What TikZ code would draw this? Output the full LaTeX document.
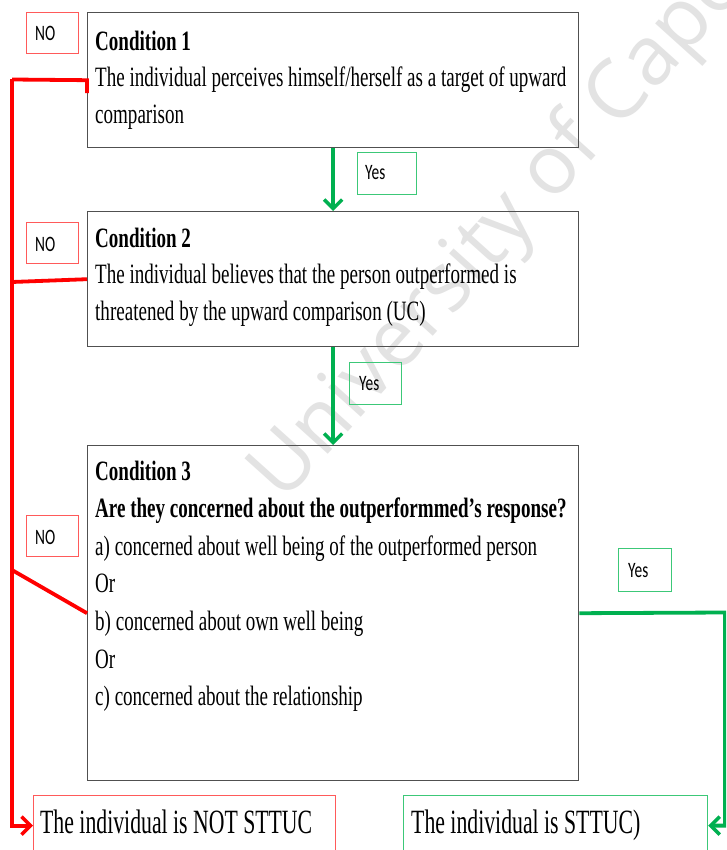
\documentclass[tikz,border=0pt]{standalone}
\usepackage{fontspec}
\usetikzlibrary{arrows.meta}
\newfontfamily\tnr[FakeStretch=0.68]{Liberation Serif}
\newfontfamily\tnrend[FakeStretch=0.64]{Liberation Serif}
\newfontfamily\lbl[FakeStretch=0.7]{Carlito}
\newfontfamily\wmfont{Open Sans}
\definecolor{boxgray}{HTML}{505050}
\definecolor{nored}{HTML}{FF0000}
\definecolor{lightred}{HTML}{FF5A5A}
\definecolor{yesgreen}{HTML}{00B050}
\definecolor{lightgreen}{HTML}{3CC878}
\tikzset{
  cbox/.style={draw=boxgray, line width=1.4pt, anchor=north west, inner sep=0pt},
  nobox/.style={draw=lightred, line width=1.2pt, anchor=north west, inner sep=0pt, minimum width=52pt, minimum height=41pt},
  yesbox/.style={draw=lightgreen, line width=1.2pt, anchor=north west, inner sep=0pt, minimum width=56pt, minimum height=42pt},
  txt/.style={anchor=base west, inner sep=0pt, font=\tnr\fontsize{28}{37}\selectfont},
  endtxt/.style={anchor=base west, inner sep=0pt, font=\tnrend\fontsize{34}{40}\selectfont},
  lbltxt/.style={anchor=base west, inner sep=0pt, font=\lbl\fontsize{22}{26}\selectfont},
  redline/.style={draw=nored, line width=3.8pt},
  greenline/.style={draw=yesgreen, line width=3.8pt},
  redarrow/.style={redline, -{Straight Barb[length=9pt,width=18pt,line width=3.5pt]}},
  greenarrow/.style={greenline, -{Straight Barb[length=9pt,width=18pt,line width=3.5pt]}},
}
\begin{document}
\begin{tikzpicture}[x=1pt,y=-1pt]
\clip (0,0) rectangle (726,850);
\fill[white] (0,0) rectangle (726,850);
% watermark
\node[rotate=48, anchor=base west, inner sep=0pt, text=black!11, font=\wmfont\fontsize{82}{82}\selectfont] (wm) at (283,504) {University of Cape Town};

% condition boxes
\node[cbox, minimum width=491pt, minimum height=135pt] (c1) at (87,12) {};
\node[cbox, minimum width=491pt, minimum height=135pt] (c2) at (87,211) {};
\node[cbox, minimum width=491pt, minimum height=335pt] (c3) at (87,445) {};

% end boxes
\node[draw=lightred, line width=1.2pt, anchor=north west, minimum width=302pt, minimum height=60pt] (notb) at (33,795) {};
\node[draw=lightgreen, line width=1.2pt, anchor=north west, minimum width=304pt, minimum height=60pt] (yesb) at (403,795) {};

% label boxes
\node[nobox] (no1) at (26,12) {};
\node[nobox] (no2) at (26,222) {};
\node[nobox] (no3) at (26,515) {};
\node[yesbox, minimum width=59pt] (y1) at (357,152) {};
\node[yesbox, minimum width=52pt] (y2) at (349,362) {};
\node[yesbox, minimum width=53pt, minimum height=43pt] (y3) at (618,548) {};

\node[lbltxt] (no1t) at (35,41) {NO};
\node[lbltxt] (no2t) at (35,251) {NO};
\node[lbltxt] (no3t) at (35,544) {NO};
\node[lbltxt] (y1t) at (365,180) {Yes};
\node[lbltxt] (y2t) at (359,390) {Yes};
\node[lbltxt] (y3t) at (628,577) {Yes};

% texts
\node[txt] (c1a) at (95,51) {\textbf{Condition 1}};
\node[txt] (c1b) at (95,87) {The individual perceives  himself/herself as a target of upward};
\node[txt] (c1c) at (95,124) {comparison};
\node[txt] (c2a) at (95,247) {\textbf{Condition 2}};
\node[txt] (c2b) at (95,283) {The individual believes that the person outperformed is};
\node[txt] (c2c) at (95,320) {threatened by the upward comparison (UC)};
\node[txt] (c3a) at (95,480) {\textbf{Condition 3}};
\node[txt] (c3b) at (95,517) {\textbf{Are they concerned about the outperformmed’s response?}};
\node[txt] (c3c) at (95,555) {a) concerned about well being of the outperformed person};
\node[txt] (c3d) at (95,592) {Or};
\node[txt] (c3e) at (95,630) {b) concerned about own well being};
\node[txt] (c3f) at (95,668) {Or};
\node[txt] (c3g) at (95,705) {c) concerned about the relationship};
\node[endtxt] (nott) at (40,833) {The individual is NOT STTUC};
\node[endtxt] (yest) at (411,833) {The individual is STTUC)};

% connectors
\coordinate (rtop) at (12,79.5);
\coordinate (rmid) at (12,282);
\coordinate (rlow) at (12,570);
\coordinate (gright) at (725,612.5);
\draw[redline] ([yshift=-13pt]c1.west) -- (c1.west) -- (rtop);
\draw[redarrow] (rtop) -- (notb.west -| rtop) -- (notb.west);
\draw[redline] (c2.west) -- (rmid);
\draw[redline] (c3.west) -- (rlow);
\draw[greenarrow] (c1.south) -- (c2.north);
\draw[greenarrow] (c2.south) -- (c3.north);
\draw[greenarrow] (c3.east) -- (gright) -- (yesb.east -| gright) -- (yesb.east);
\end{tikzpicture}
\end{document}
